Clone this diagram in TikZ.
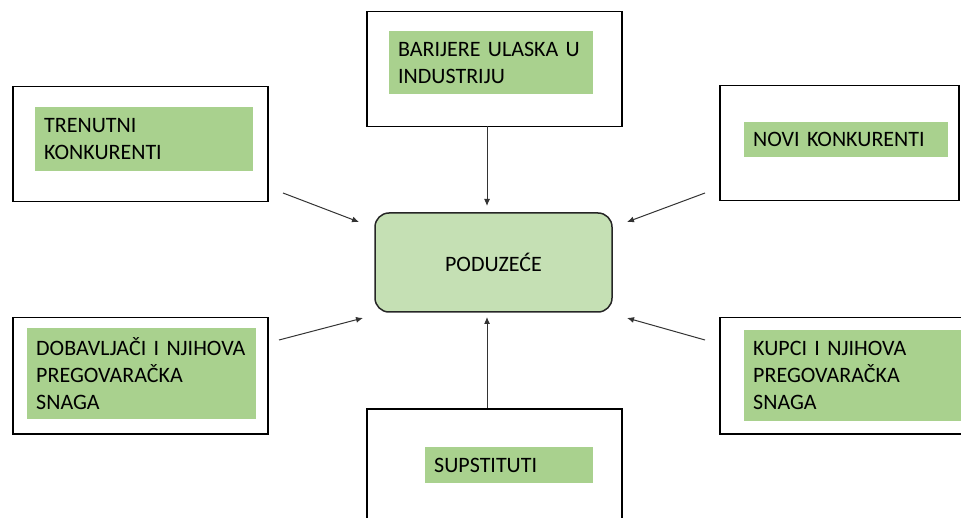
\documentclass[tikz,border=0pt]{standalone}
\usepackage{fontspec}
\setmainfont{Carlito}
\usepackage{tikz}
\usetikzlibrary{shapes,arrows.meta,positioning}
\definecolor{taggreen}{HTML}{A9D18E}
\definecolor{firmgreen}{HTML}{C5E0B4}
\tikzstyle{force} = [rectangle, draw=black, line width=1.5pt, minimum width=255pt, minimum height=115pt, anchor=north west]
\tikzstyle{tag} = [rectangle, fill=taggreen, inner xsep=9pt, inner ysep=0pt, align=left, anchor=north west, font=\fontsize{22}{27}\selectfont]
\tikzstyle{firm} = [rectangle, rounded corners=14pt, draw=black!85, line width=1.5pt, fill=firmgreen, minimum width=237pt, minimum height=99pt, font=\fontsize{22}{27}\selectfont]
\tikzstyle{arrow} = [line width=1pt, draw=black!80, -{Latex[length=7pt,width=6pt]}]

\begin{document}
\begin{tikzpicture}[x=1pt, y=-1pt]
	\clip (0,0) rectangle (961,518);
	\node (firm) [firm] at (493.5,262.5) {PODUZEĆE};

	\node (current) [force] at (12,86) {};
	\node (currenttag) [tag, text width=200pt, minimum height=64pt] at (35,107) {TRENUTNI\\KONKURENTI};
	\node (barriers) [force] at (366,11) {};
	\node (barrierstag) [tag, text width=186pt, minimum height=63pt] at (389,31) {BARIJERE~ULASKA~U\\INDUSTRIJU};
	\node (newcomers) [force, minimum width=239pt] at (719,85) {};
	\node (newcomerstag) [tag, text width=186pt, minimum height=35pt] at (744,122) {NOVI~KONKURENTI};
	\node (suppliers) [force, minimum height=116pt] at (12,317) {};
	\node (supplierstag) [tag, text width=211pt, minimum height=91pt] at (27,328) {DOBAVLJAČI~I~NJIHOVA\\PREGOVARAČKA\\SNAGA};
	\node (buyers) [force, minimum width=280pt, minimum height=116pt] at (719,317) {};
	\node (buyerstag) [tag, text width=228pt, minimum height=91pt] at (744,330) {KUPCI~I~NJIHOVA\\PREGOVARAČKA\\SNAGA};
	\node (substitutes) [force, minimum height=130pt] at (366,408) {};
	\node (substitutestag) [tag, text width=150pt, minimum height=36pt] at (425,447) {SUPSTITUTI};

	% free arrow ends around the firm
	\coordinate (currentout) at (283,193);
	\coordinate (currentin) at (359,222);
	\coordinate (barriersout) at (487,126);
	\coordinate (barriersin) at (487,206);
	\coordinate (newcomersout) at (705,193);
	\coordinate (newcomersin) at (627,222);
	\coordinate (suppliersout) at (279,340);
	\coordinate (suppliersin) at (363,318);
	\coordinate (buyersout) at (705,340);
	\coordinate (buyersin) at (627,318);
	\coordinate (substitutesout) at (487,408);
	\coordinate (substitutesin) at (487,317);

	\draw [arrow] (currentout) -- (currentin);
	\draw [arrow] (barriersout) -- (barriersin);
	\draw [arrow] (newcomersout) -- (newcomersin);
	\draw [arrow] (suppliersout) -- (suppliersin);
	\draw [arrow] (buyersout) -- (buyersin);
	\draw [arrow] (substitutesout) -- (substitutesin);
\end{tikzpicture}
\end{document}
